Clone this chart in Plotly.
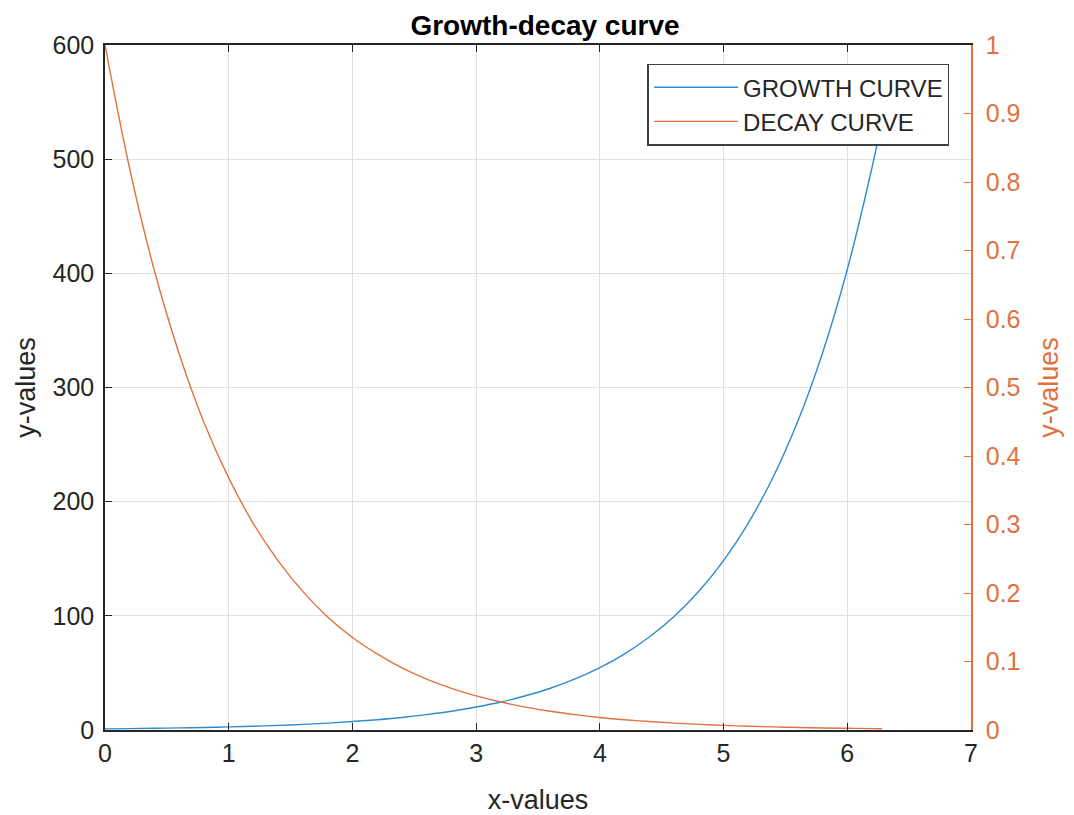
import plotly.graph_objects as go

x_values = [0.0, 0.2, 0.4, 0.6, 0.8, 1.0, 1.2, 1.4, 1.6, 1.8, 2.0, 2.2, 2.4, 2.6, 2.8,
            3.0, 3.2, 3.4, 3.6, 3.8, 4.0, 4.2, 4.4, 4.6, 4.8, 5.0, 5.2, 5.4, 5.6, 5.8,
            6.0, 6.2, 6.28]
growth_values = [1.0, 1.22, 1.49, 1.82, 2.23, 2.72, 3.32, 4.06, 4.95, 6.05, 7.39, 9.03,
                 11.0, 13.5, 16.4, 20.1, 24.5, 30.0, 36.6, 44.7, 54.6, 66.7, 81.5, 99.5,
                 121.5, 148.4, 181.3, 221.4, 270.4, 330.3, 403.4, 492.7, 533.7]
decay_values = [1.0, 0.819, 0.670, 0.549, 0.449, 0.368, 0.301, 0.247, 0.202, 0.165,
                0.135, 0.111, 0.0907, 0.0743, 0.0608, 0.0498, 0.0408, 0.0334, 0.0273,
                0.0224, 0.0183, 0.0150, 0.0123, 0.0101, 0.0082, 0.0067, 0.0055, 0.0045,
                0.0037, 0.0030, 0.0025, 0.0020, 0.0019]

BLUE = "#2F8BD0"
ORANGE = "#E0723F"
DARK = "#262626"
GRID = "#e0e0e0"
FONT = "Liberation Sans, Arial, sans-serif"

fig = go.Figure()
fig.add_trace(go.Scatter(x=x_values, y=growth_values, mode="lines", name="GROWTH CURVE",
                         line=dict(color=BLUE, width=1.4, shape="spline"), yaxis="y"))
fig.add_trace(go.Scatter(x=x_values, y=decay_values, mode="lines", name="DECAY CURVE",
                         line=dict(color=ORANGE, width=1.4, shape="spline"), yaxis="y2"))

fig.update_layout(
    width=1074, height=815,
    margin=dict(l=97, r=111, t=37, b=93),
    paper_bgcolor="white", plot_bgcolor="white",
    font=dict(family=FONT, size=25, color=DARK),
    title=dict(text="<b>Growth-decay curve</b>", x=0.5, xanchor="center",
               y=1 - 17 / 815, yanchor="middle", font=dict(size=28, color="black")),
    xaxis=dict(range=[0, 7], dtick=1, showgrid=True, gridcolor=GRID, gridwidth=1,
               showline=True, linecolor=DARK, linewidth=1.5, mirror="ticks",
               ticks="inside", ticklen=7, tickcolor=DARK, zeroline=False,
               tickfont=dict(size=25, color=DARK), automargin=False,
               title=dict(text="x-values", font=dict(size=27, color=DARK), standoff=24)),
    yaxis=dict(range=[0, 600], dtick=100, showgrid=True, gridcolor=GRID, gridwidth=1,
               showline=True, linecolor=DARK, linewidth=1.5, mirror=False,
               ticks="inside", ticklen=7, tickcolor=DARK, zeroline=False,
               tickfont=dict(size=25, color=DARK), ticklabelstandoff=4, automargin=False,
               title=dict(text="y-values", font=dict(size=27, color=DARK), standoff=9)),
    yaxis2=dict(range=[0, 1], dtick=0.1, overlaying="y", side="right", showgrid=False,
                showline=True, linecolor=ORANGE, linewidth=1.5,
                ticks="inside", ticklen=7, tickcolor=ORANGE, zeroline=False,
                tickfont=dict(size=25, color=ORANGE), ticklabelstandoff=8, automargin=False,
                title=dict(text="y-values", font=dict(size=27, color=ORANGE), standoff=20)),
    legend=dict(x=(949 - 105.5) / 865, y=(730 - 64) / 684.5, xanchor="right", yanchor="top",
                bgcolor="white", bordercolor="#404040", borderwidth=1.6,
                font=dict(size=24, color=DARK), itemwidth=84,
                tracegroupgap=0),
    showlegend=True,
)

fig.write_html("out.html")
